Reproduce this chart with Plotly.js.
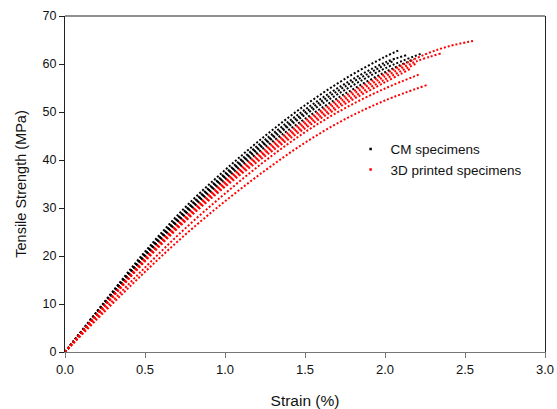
<!DOCTYPE html>
<html>
<head>
<meta charset="utf-8">
<script src="https://cdn.plot.ly/plotly-3.0.1.min.js"></script>
<style>html,body{margin:0;padding:0;background:#fff;} #chart{width:557px;height:409px;}</style>
</head>
<body>
<div id="chart"></div>
<script>
// Strain (%) and tensile strength (MPa) for each specimen
const cm1Strain = [0, 0.25, 0.5, 0.75, 1.0, 1.25, 1.5, 1.75, 2.0, 2.09];
const cm1Stress = [0, 10.6, 20.9, 30.1, 37.9, 45.0, 51.4, 56.9, 61.5, 62.9];
const cm2Strain = [0, 0.25, 0.5, 0.75, 1.0, 1.25, 1.5, 1.75, 2.0, 2.14];
const cm2Stress = [0, 10.4, 20.5, 29.5, 37.2, 44.2, 50.5, 55.9, 60.3, 61.9];
const cm3Strain = [0, 0.25, 0.5, 0.75, 1.0, 1.25, 1.5, 1.75, 2.0, 2.23];
const cm3Stress = [0, 10.2, 20.1, 28.9, 36.5, 43.3, 49.4, 54.6, 59.1, 62.2];
const cm4Strain = [0, 0.25, 0.5, 0.75, 1.0, 1.25, 1.5, 1.75, 2.0, 2.18];
const cm4Stress = [0, 10.1, 19.9, 28.6, 36.0, 42.7, 48.6, 53.8, 58.3, 61.0];
const cm5Strain = [0, 0.25, 0.5, 0.75, 1.0, 1.25, 1.5, 1.75, 2.0, 2.05];
const cm5Stress = [0, 10.3, 20.3, 29.2, 36.8, 43.7, 49.9, 55.3, 59.8, 60.6];

const p1Strain = [0, 0.25, 0.5, 0.75, 1.0, 1.25, 1.5, 1.75, 2.0, 2.25, 2.4, 2.55];
const p1Stress = [0, 9.9, 19.5, 28.1, 35.6, 42.2, 48.1, 53.3, 57.9, 62.0, 63.7, 64.8];
const p2Strain = [0, 0.25, 0.5, 0.75, 1.0, 1.25, 1.5, 1.75, 2.0, 2.2, 2.35];
const p2Stress = [0, 9.8, 19.3, 27.8, 35.2, 41.7, 47.6, 52.8, 57.4, 60.6, 62.2];
const p3Strain = [0, 0.25, 0.5, 0.75, 1.0, 1.25, 1.5, 1.75, 2.0, 2.2];
const p3Stress = [0, 9.7, 19.1, 27.5, 34.8, 41.3, 47.1, 52.2, 56.8, 60.2];
const p4Strain = [0, 0.25, 0.5, 0.75, 1.0, 1.25, 1.5, 1.75, 2.0, 2.16];
const p4Stress = [0, 9.6, 18.9, 27.2, 34.4, 40.8, 46.6, 51.7, 56.2, 59.0];
const p5Strain = [0, 0.25, 0.5, 0.75, 1.0, 1.25, 1.5, 1.75, 2.0, 2.22];
const p5Stress = [0, 9.0, 17.6, 25.7, 33.0, 39.8, 45.8, 50.8, 54.9, 57.9];
const p6Strain = [0, 0.25, 0.5, 0.75, 1.0, 1.25, 1.5, 1.75, 2.0, 2.26];
const p6Stress = [0, 8.5, 16.7, 24.4, 31.4, 37.8, 43.6, 48.5, 52.4, 55.6];

const seriesNames = ['CM specimens', '3D printed specimens'];
const seriesColors = ['#000000', '#ff0000'];
const xTicks = [0, 0.5, 1.0, 1.5, 2.0, 2.5, 3.0];
const yTicks = [0, 10, 20, 30, 40, 50, 60, 70];

const cmCurves = [[cm1Strain, cm1Stress], [cm2Strain, cm2Stress], [cm3Strain, cm3Stress], [cm4Strain, cm4Stress], [cm5Strain, cm5Stress]];
const pCurves = [[p1Strain, p1Stress], [p2Strain, p2Stress], [p3Strain, p3Stress], [p4Strain, p4Stress], [p5Strain, p5Stress], [p6Strain, p6Stress]];

function curveTrace(c, color) {
  return {
    x: c[0], y: c[1], type: 'scatter', mode: 'lines',
    line: {color: color, width: 2, dash: '2px,2px', shape: 'spline', smoothing: 1},
    showlegend: false, hoverinfo: 'skip'
  };
}

const traces = [];
cmCurves.forEach(c => traces.push(curveTrace(c, seriesColors[0])));
pCurves.forEach(c => traces.push(curveTrace(c, seriesColors[1])));
seriesNames.forEach((n, i) => traces.push({
  x: [null], y: [null], type: 'scatter', mode: 'markers', name: n,
  marker: {color: seriesColors[i], size: 2.5, symbol: 'square'}, showlegend: true
}));

const fam = 'Liberation Sans, Arial, sans-serif';

const layout = {
  width: 557, height: 409,
  margin: {l: 65, r: 12, t: 16, b: 57},
  paper_bgcolor: '#fff', plot_bgcolor: '#fff',
  font: {family: fam, size: 12, color: '#111'},
  showlegend: true,
  legend: {x: 0.595, y: 0.65, xanchor: 'left', yanchor: 'top', bgcolor: 'rgba(0,0,0,0)',
           font: {family: fam, size: 13.5, color: '#111'}, itemwidth: 30, tracegroupgap: 0},
  xaxis: {
    range: [0, 3], tickvals: xTicks, tickformat: '.1f', ticks: 'outside', ticklen: 5, tickcolor: '#777',
    showline: true, linecolor: '#777', linewidth: 1, showgrid: false, zeroline: false,
    tickfont: {family: fam, size: 13, color: '#111'},
    title: {text: 'Strain (%)', font: {family: fam, size: 15.5, color: '#111'}, standoff: 20}
  },
  yaxis: {
    range: [0, 70], tickvals: yTicks, ticks: 'outside', ticklen: 5, tickcolor: '#222',
    showline: true, linecolor: '#222', linewidth: 1, mirror: true, showgrid: false, zeroline: false,
    tickfont: {family: fam, size: 12.5, color: '#111'},
    title: {text: 'Tensile Strength (MPa)', font: {family: fam, size: 14.5, color: '#111'}, standoff: 12}
  },
  shapes: [{type: 'line', xref: 'paper', yref: 'paper', x0: 0, x1: 1, y0: 1, y1: 1, line: {color: '#222', width: 1}}]
};

Plotly.newPlot('chart', traces, layout, {staticPlot: true, displayModeBar: false});
</script>
</body>
</html>
